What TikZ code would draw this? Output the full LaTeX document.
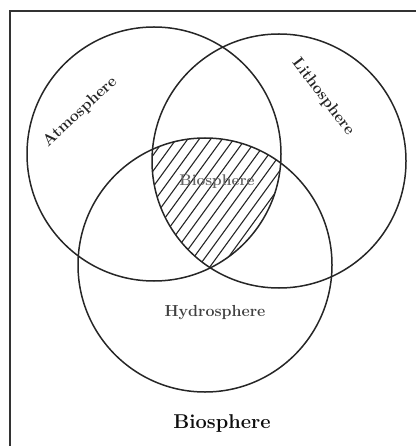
\documentclass[tikz,border=0pt]{standalone}
\begin{document}
\begin{tikzpicture}[x=1pt,y=-1pt,
  ring/.style={draw=black!85, line width=1.5pt},
  hatchline/.style={draw=black!85, line width=1.1pt},
  framestyle/.style={draw=black!80, line width=2pt},
  lbl/.style={font=\bfseries\fontsize{16}{18}\selectfont, text=black!85, inner sep=0pt}]
\useasboundingbox (0,0) rectangle (416,446);
\coordinate (cA) at (154,154);
\coordinate (cL) at (279,161);
\coordinate (cH) at (205,265);
\coordinate (fBL) at (10,446);
\coordinate (fTL) at (10,11);
\coordinate (fTR) at (416,11);
\draw[framestyle] (fBL) -- (fTL) -- (fTR);
\begin{scope}
  \clip (cA) circle (127);
  \clip (cL) circle (127);
  \clip (cH) circle (127);
  \foreach \i in {-10,...,12}
    \draw[hatchline] ({178+11.5*\i-80},{200+0.809/0.588*80}) -- ({178+11.5*\i+80},{200-0.809/0.588*80});
\end{scope}
\draw[ring] (cA) circle (127);
\draw[ring] (cL) circle (127);
\draw[ring] (cH) circle (127);
\node[lbl, rotate=43] (atm) at (80,112) {Atmosphere};
\node[lbl, rotate=-53] (lith) at (323,97) {Lithosphere};
\node[lbl, text=black!60, font=\bfseries\fontsize{15.5}{17}\selectfont] (bioin) at (217,182) {Biosphere};
\node[lbl, text=black!75] (hyd) at (215,313) {Hydrosphere};
\node[lbl, text=black!95, font=\bfseries\fontsize{20}{22}\selectfont] (bio) at (222,423) {Biosphere};
\end{tikzpicture}
\end{document}
